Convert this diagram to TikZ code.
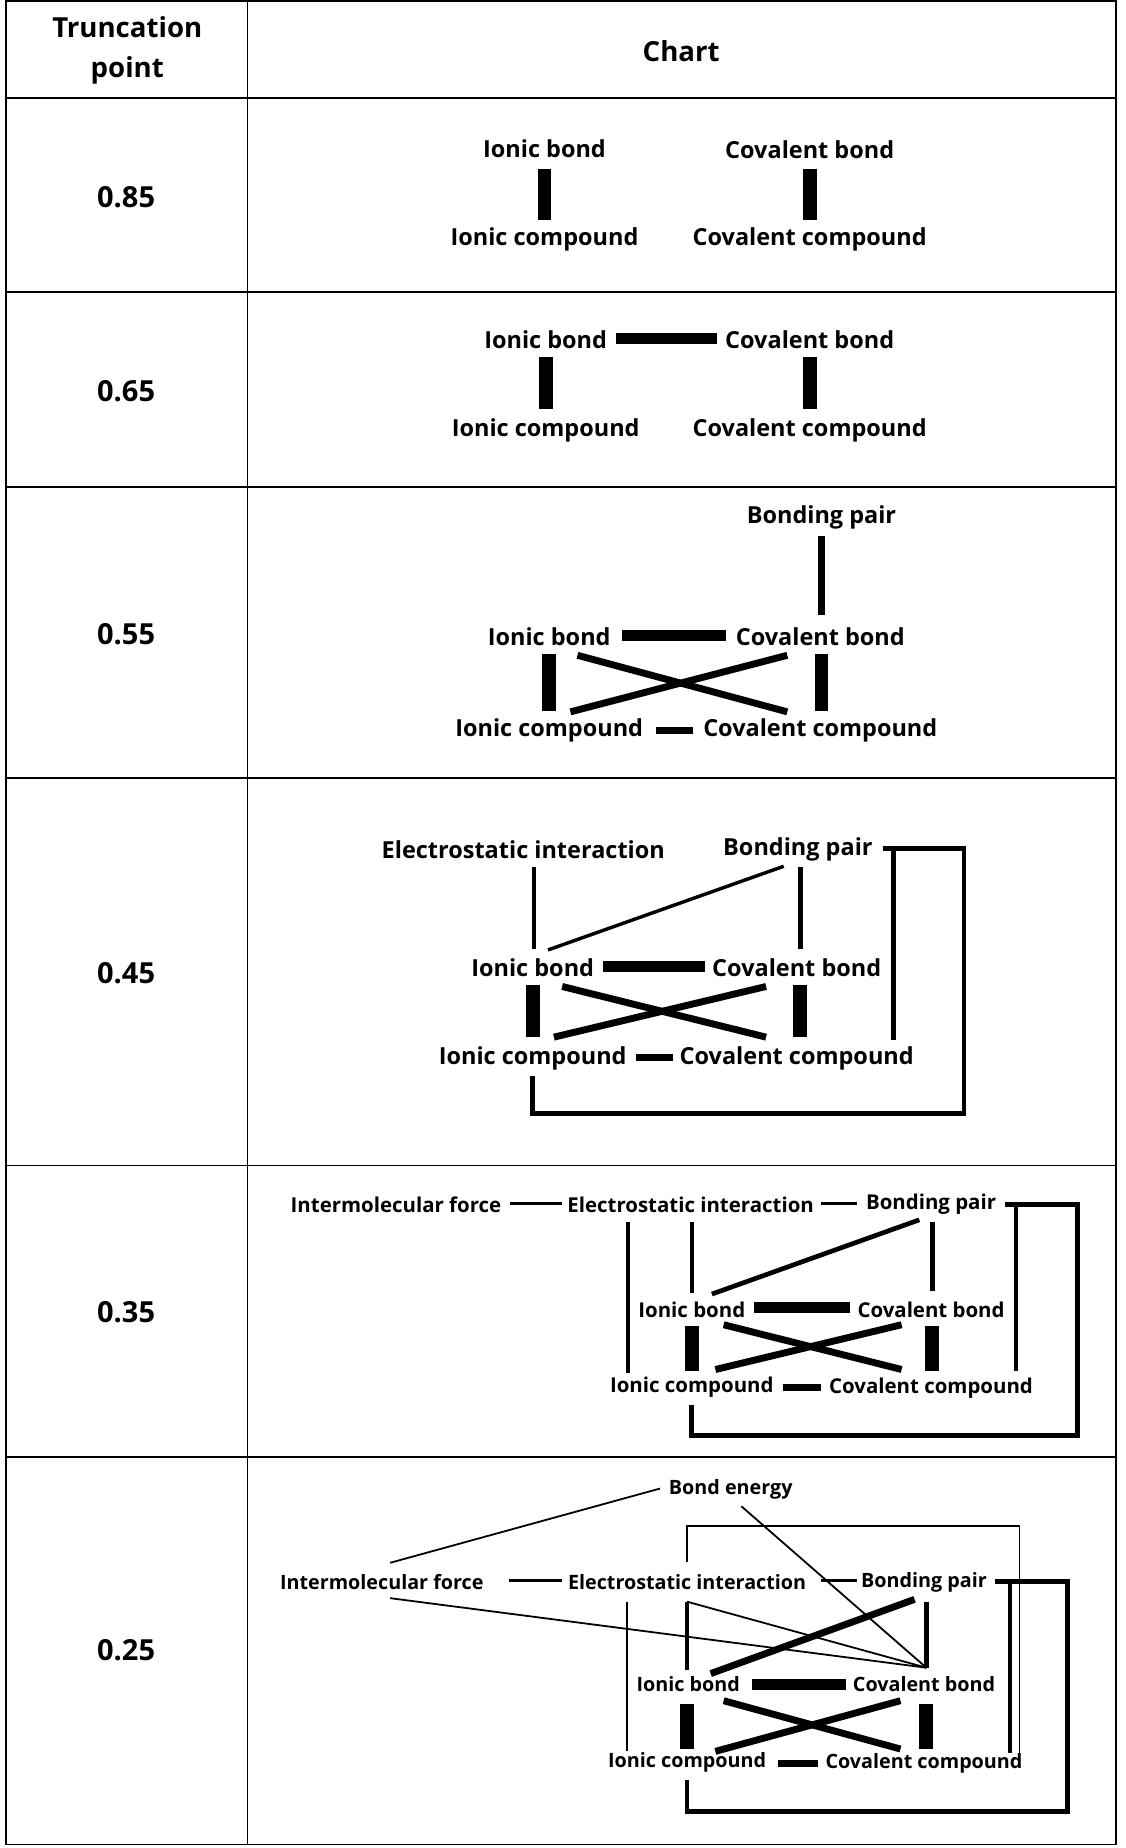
\documentclass[tikz,border=0pt]{standalone}
\usepackage{fontspec}
\setmainfont{Open Sans}[BoldFont={Open Sans Bold}]
\begin{document}
\begin{tikzpicture}[x=0.03cm,y=-0.03cm,
  lab/.style={font=\bfseries\fontsize{17}{19}\selectfont,inner sep=0pt},
  labs/.style={font=\bfseries\fontsize{14.8}{16}\selectfont,inner sep=0pt},
  labt/.style={font=\bfseries\fontsize{14.3}{16}\selectfont,inner sep=0pt},
  hd/.style={font=\bfseries\fontsize{20}{29}\selectfont,align=center,inner sep=0pt},
  val/.style={font=\bfseries\fontsize{21}{23}\selectfont,inner sep=0pt},
  bar/.style={line width=10pt},
  hbar/.style={line width=8pt},
  mid/.style={line width=5pt},
  thin/.style={line width=2.5pt},
  fine/.style={line width=1.3pt},
  br/.style={line width=3.4pt}]
\useasboundingbox (0,0) rectangle (955,1568);
% table
\draw[line width=1.2pt] (5,1) rectangle (947,1565);
\draw[line width=1.2pt] (210,1) -- (210,1565);
\foreach \y in {83,248,413,660,989,1236} \draw[line width=1.2pt] (5,\y) -- (947,\y);
\node[hd] (h1) at (108,43) {Truncation\\point};
\node[hd] (h2) at (578,43) {Chart};
\node[val] (v1) at (107,167) {0.85};
\node[val] (v2) at (107,332) {0.65};
\node[val] (v3) at (107,538) {0.55};
\node[val] (v4) at (107,826) {0.45};
\node[val] (v5) at (107,1113) {0.35};
\node[val] (v6) at (107,1400) {0.25};
% row 0.85
\node[lab] (a1) at (462,126) {Ionic bond};
\node[lab] (a2) at (687,127) {Covalent bond};
\node[lab] (a3) at (462,203) {Ionic compound};
\node[lab] (a4) at (687,203) {Covalent compound};
\draw[bar] (462,143) -- (462,187);
\draw[bar] (687,143) -- (687,187);
% row 0.65
\node[lab] (b1) at (463,288) {Ionic bond};
\node[lab] (b2) at (687,288) {Covalent bond};
\node[lab] (b3) at (463,365) {Ionic compound};
\node[lab] (b4) at (687,365) {Covalent compound};
\draw[hbar] (523,287) -- (608,287);
\draw[bar] (463,303) -- (463,347);
\draw[bar] (687,303) -- (687,347);
% row 0.55
\node[lab] (c0) at (697,439) {Bonding pair};
\node[lab] (c1) at (466,540) {Ionic bond};
\node[lab] (c2) at (696,540) {Covalent bond};
\node[lab] (c3) at (466,620) {Ionic compound};
\node[lab] (c4) at (696,620) {Covalent compound};
\draw[mid] (697,455) -- (697,522);
\draw[hbar] (528,539) -- (616,539);
\draw[bar] (466,555) -- (466,603);
\draw[bar] (697,555) -- (697,603);
\draw[mid] (490,556) -- (668,604);
\draw[mid] (484,604) -- (668,556);
\draw[mid] (557,620) -- (588,620);
% row 0.45
\node[lab] (d5) at (444,721) {Electrostatic interaction};
\node[lab] (d0) at (677,721) {Bonding pair};
\node[lab] (d1) at (452,821) {Ionic bond};
\node[lab] (d2) at (676,821) {Covalent bond};
\node[lab] (d3) at (452,898) {Ionic compound};
\node[lab] (d4) at (676,898) {Covalent compound};
\draw[thin] (453,736) -- (453,805);
\draw[thin] (665,735) -- (465,806);
\draw[br] (679,736) -- (679,805);
\draw[hbar] (512,820) -- (598,820);
\draw[bar] (452,836) -- (452,880);
\draw[bar] (679,836) -- (679,880);
\draw[mid] (477,837) -- (650,880);
\draw[mid] (470,880) -- (650,837);
\draw[mid] (540,897) -- (571,897);
\draw[br] (749,720) -- (758,720) -- (758,882);
\draw[br] (749,720) -- (818,720) -- (818,945) -- (452,945) -- (452,913);
% row 0.35
\node[labs] (e6) at (336,1022) {Intermolecular force};
\node[labs] (e5) at (586,1022) {Electrostatic interaction};
\node[labs] (e0) at (790,1022) {Bonding pair};
\node[labs] (e1) at (587,1111) {Ionic bond};
\node[labs] (e2) at (790,1111) {Covalent bond};
\node[labs] (e3) at (587,1177) {Ionic compound};
\node[labs] (e4) at (790,1178) {Covalent compound};
\draw[thin] (433,1021) -- (477,1021);
\draw[thin] (697,1021) -- (727,1021);
\draw[thin] (533,1037) -- (533,1165);
\draw[thin] (587,1037) -- (587,1097);
\draw[br] (780,1035) -- (604,1098);
\draw[br] (791,1037) -- (791,1095);
\draw[hbar] (640,1109) -- (721,1109);
\draw[bar] (587,1125) -- (587,1163);
\draw[bar] (791,1125) -- (791,1163);
\draw[mid] (614,1124) -- (765,1162);
\draw[mid] (607,1162) -- (765,1124);
\draw[mid] (664,1177) -- (697,1177);
\draw[br] (853,1022) -- (862,1022) -- (862,1163);
\draw[br] (853,1022) -- (914,1022) -- (914,1218) -- (587,1218) -- (587,1192);
% row 0.25
\node[labt] (f7) at (620,1264) {Bond energy};
\node[labt] (f6) at (324,1342) {Intermolecular force};
\node[labt] (f5) at (583,1342) {Electrostatic interaction};
\node[labt] (f0) at (784,1343) {Bonding pair};
\node[labt] (f1) at (584,1429) {Ionic bond};
\node[labt] (f2) at (784,1429) {Covalent bond};
\node[labt] (f3) at (583,1495) {Ionic compound};
\node[labt] (f4) at (784,1496) {Covalent compound};
\coordinate (fc) at (786,1415);
\draw[fine] (560,1263) -- (331,1326);
\draw[fine] (331,1356) -- (fc);
\draw[fine] (629,1278) -- (fc);
\draw[fine] (583,1359) -- (fc);
\draw[fine] (583,1325) -- (583,1295) -- (865,1295) -- (865,1487);
\draw[thin] (432,1341) -- (477,1341);
\draw[thin] (697,1341) -- (727,1341);
\draw[fine] (532,1359) -- (532,1486);
\draw[br] (583,1359) -- (583,1417);
\draw[br] (786,1359) -- (786,1415);
\draw[mid] (776,1357) -- (603,1420);
\draw[hbar] (638,1429) -- (718,1429);
\draw[bar] (583,1446) -- (583,1484);
\draw[bar] (786,1446) -- (786,1484);
\draw[mid] (614,1443) -- (764,1484);
\draw[mid] (607,1486) -- (764,1443);
\draw[mid] (660,1496) -- (694,1496);
\draw[br] (844,1342) -- (857,1342) -- (857,1487);
\draw[br] (844,1342) -- (906,1342) -- (906,1537) -- (583,1537) -- (583,1510);
\end{tikzpicture}
\end{document}
